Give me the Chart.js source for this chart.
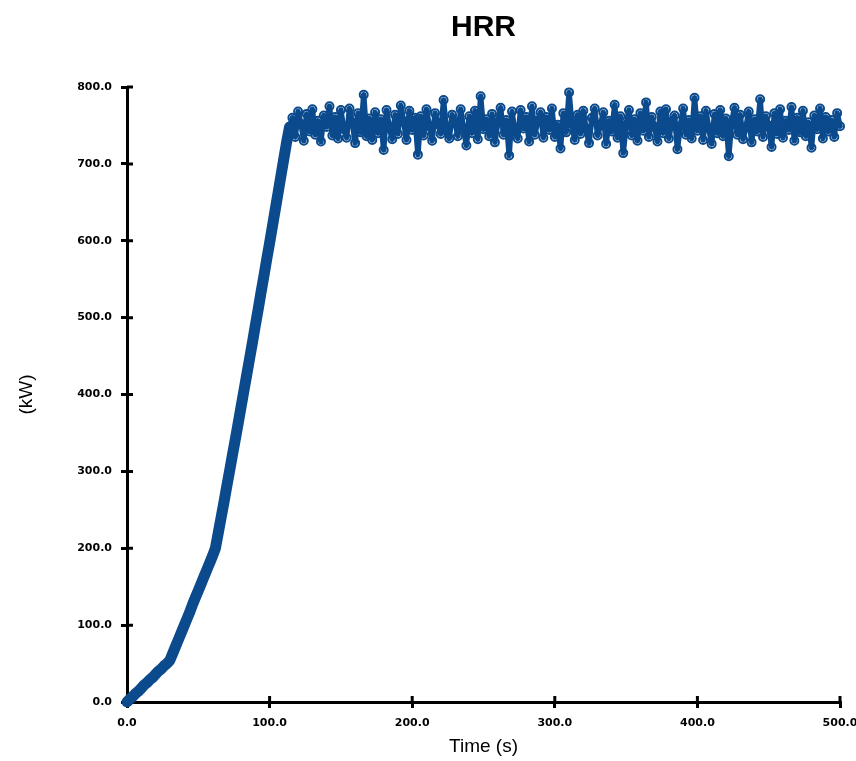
<!DOCTYPE html>
<html><head><meta charset="utf-8">
<style>html,body{margin:0;padding:0;background:#fff}#wrap{width:856px;height:761px}</style>
<script src="https://cdn.jsdelivr.net/npm/chart.js@4"></script>
</head><body><div id="wrap"><canvas id="c" width="856" height="761"></canvas></div>
<script>
const chartTitle = 'HRR';
const xTitle = 'Time (s)';
const yTitle = '(kW)';
const sampleStep = 2; // seconds between samples
// growth phase, t = 0 .. 112 s
const riseHRR = [0,4,7,11,14,18,22,25,29,32,36,40,43,47,50,54,
  63,72,81,90,99,108,117,127,136,145,154,163,172,181,190,200,
  220,240,260,281,301,322,342,363,384,405,426,447,468,490,511,533,554,576,597,619,641,663,685,707,729];
// steady phase, t = 114 .. 500 s
const plateauHRR = [
  748,760,735,768,752,730,765,742,771,738,
  756,729,763,748,775,737,761,733,770,745,
  734,772,754,727,766,741,790,736,759,731,
  767,740,758,718,770,747,732,764,739,776,
  755,731,769,744,760,712,762,737,771,749,
  730,766,752,739,783,743,733,764,755,736,
  771,746,724,762,740,769,732,788,745,758,
  736,765,728,754,773,738,757,711,768,742,
  733,770,746,761,729,775,738,756,767,734,
  761,744,772,735,751,720,766,741,793,752,
  731,764,739,769,745,727,760,772,737,750,
  767,726,756,742,777,734,762,714,751,770,
  737,758,730,766,743,780,735,761,748,729,
  768,740,771,733,755,763,719,749,772,738,
  757,733,786,743,762,731,769,746,726,765,
  740,770,736,759,710,754,773,738,764,732,
  747,768,728,758,742,784,735,762,750,722,
  766,739,771,734,756,744,774,730,760,741,
  769,736,754,721,763,745,772,733,761,742,
  757,735,766,749];
const xTicks = [0,100,200,300,400,500];
const yTicks = [0,100,200,300,400,500,600,700,800];

const COLOR = '#0b4a8c';
const hrr = riseHRR.concat(plateauHRR);
const points = hrr.map((v,i)=>({x:i*sampleStep, y:v}));
const plateauStartTime = riseHRR.length*sampleStep;

const tickFont = {family:'"DejaVu Sans", sans-serif', size:11, weight:'bold'};
const titleFont = {family:'"Liberation Sans", Arial, sans-serif', size:19, weight:'normal'};

const innerTicks = {
  id:'innerTicks',
  beforeDatasetsDraw(chart){
    const {ctx, chartArea:a, scales:{x,y}} = chart;
    ctx.save(); ctx.strokeStyle='#000'; ctx.lineWidth=3; ctx.beginPath();
    x.ticks.forEach(t=>{ if(t.value===0) return; const px=x.getPixelForValue(t.value); ctx.moveTo(px,a.bottom); ctx.lineTo(px,a.bottom-6); });
    y.ticks.forEach(t=>{ if(t.value===0) return; const py=y.getPixelForValue(t.value); ctx.moveTo(a.left,py); ctx.lineTo(a.left+6,py); });
    ctx.stroke(); ctx.restore();
  }
};

new Chart(document.getElementById('c'), {
  type:'line',
  data:{datasets:[{
    data:points,
    borderColor:COLOR, backgroundColor:'rgba(0,0,0,0)',
    borderWidth:5.5, tension:0, clip:false,
    borderJoinStyle:'round', borderCapStyle:'round',
    pointRadius: c => (c.parsed && c.parsed.x >= plateauStartTime) ? 4 : 0,
    pointBorderWidth:2, pointBorderColor:COLOR, pointBackgroundColor:'rgba(0,0,0,0)',
    segment:{borderWidth: c => c.p1.parsed.x <= plateauStartTime ? 11 : 5.5}
  }]},
  options:{
    responsive:false, animation:false, devicePixelRatio:1,
    layout:{padding:{left:0,right:16,top:0,bottom:0}},
    plugins:{
      legend:{display:false}, tooltip:{enabled:false},
      title:{display:true, text:chartTitle, fullSize:false, color:'#000',
        font:{family:'"Liberation Sans", Arial, sans-serif', size:30, weight:'bold'},
        padding:{top:10,bottom:41}}
    },
    scales:{
      x:{type:'linear', min:0, max:500,
        afterBuildTicks: s=>{ s.ticks = xTicks.map(v=>({value:v})); },
        ticks:{callback:v=>Number(v).toFixed(1), font:tickFont, color:'#000', padding:9, maxRotation:0, autoSkip:false},
        grid:{drawOnChartArea:false, drawTicks:true, tickLength:6, lineWidth:3, color:'#000'},
        border:{display:true, width:3, color:'#000'},
        title:{display:true, text:xTitle, font:titleFont, color:'#000', padding:{top:0,bottom:3}},
        afterFit: s=>{ s.height=59; s.paddingLeft=0; s.paddingRight=0; }
      },
      y:{type:'linear', min:0, max:800,
        afterBuildTicks: s=>{ s.ticks = yTicks.map(v=>({value:v})); },
        ticks:{callback:v=>Number(v).toFixed(1), font:tickFont, color:'#000', padding:9, autoSkip:false},
        grid:{drawOnChartArea:false, drawTicks:true, tickLength:6, lineWidth:3, color:'#000'},
        border:{display:true, width:3, color:'#000'},
        title:{display:true, text:yTitle, font:titleFont, color:'#000', padding:{top:15,bottom:0}},
        afterFit: s=>{ s.width=127; s.paddingTop=0; s.paddingBottom=0; }
      }
    }
  },
  plugins:[innerTicks]
});
</script></body></html>
